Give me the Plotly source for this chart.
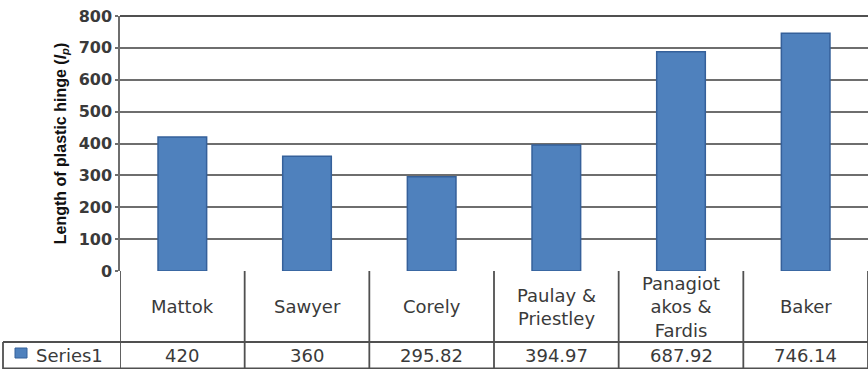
import plotly.graph_objects as go

# Plastic hinge length predicted by each model
categories = ["Mattok", "Sawyer", "Corely", "Paulay & Priestley", "Panagiotakos & Fardis", "Baker"]
table_labels = ["Mattok", "Sawyer", "Corely", "Paulay &<br>Priestley", "Panagiot<br>akos &<br>Fardis", "Baker"]
values = [420, 360, 295.82, 394.97, 687.92, 746.14]
series_name = "Series1"
y_ticks = [0, 100, 200, 300, 400, 500, 600, 700, 800]

W, H = 868, 369
M_L, M_R, M_T, M_B = 120, 0, 16, 98
plot_w = W - M_L - M_R
plot_h = H - M_T - M_B

def py(px_from_axis):
    """pixel offset below the x axis -> paper y"""
    return -px_from_axis / plot_h

def px(x_pixel):
    """absolute pixel x -> paper x"""
    return (x_pixel - M_L) / plot_w

bar_color = "#4F81BD"
edge_color = "#35609A"
line_color = "#6E6E6E"
table_line = "#505050"
text_color = "#3A3A3A"

fig = go.Figure()
fig.add_trace(go.Bar(
    x=categories, y=values, name=series_name,
    marker=dict(color=bar_color, line=dict(color=edge_color, width=1.5)),
    width=0.39, showlegend=False,
))

row1_bottom = 71   # pixels below the axis
row2_bottom = 98

shapes = []
n = len(categories)
# column separators of the data table
for i in range(n + 1):
    shapes.append(dict(type="line", xref="x", yref="paper",
                       x0=i - 0.5, x1=i - 0.5, y0=0, y1=py(row2_bottom),
                       line=dict(color=table_line, width=1.8)))
# horizontal rules of the data table
shapes.append(dict(type="line", xref="paper", yref="paper",
                   x0=px(3), x1=1, y0=py(row1_bottom), y1=py(row1_bottom),
                   line=dict(color=table_line, width=1.8)))
shapes.append(dict(type="line", xref="paper", yref="paper",
                   x0=px(3), x1=1, y0=py(row2_bottom) + 0.003, y1=py(row2_bottom) + 0.003,
                   line=dict(color=table_line, width=1.5)))
shapes.append(dict(type="line", xref="paper", yref="paper",
                   x0=px(3), x1=px(3), y0=py(row1_bottom), y1=py(row2_bottom),
                   line=dict(color=table_line, width=1.8)))
# legend key square
shapes.append(dict(type="rect", xref="paper", yref="paper",
                   x0=px(15), x1=px(27), y0=py(77), y1=py(87),
                   fillcolor=bar_color, line=dict(color=edge_color, width=1)))
# top border of the plot area
shapes.append(dict(type="line", xref="paper", yref="paper",
                   x0=0, x1=1, y0=1, y1=1, line=dict(color="#505050", width=1.8)))

table_font = dict(family="DejaVu Sans", size=18, color=text_color)
annotations = []
for cat, lab, v in zip(categories, table_labels, values):
    annotations.append(dict(x=cat, xref="x", y=py(row1_bottom / 2), yref="paper",
                            text=lab, showarrow=False, yanchor="middle", xanchor="center",
                            font=table_font))
    annotations.append(dict(x=cat, xref="x", y=py((row1_bottom + row2_bottom) / 2), yref="paper",
                            text=f"{v:g}", showarrow=False, yanchor="middle", xanchor="center",
                            font=table_font))
annotations.append(dict(x=px(34), xref="paper", y=py((row1_bottom + row2_bottom) / 2), yref="paper",
                        text=series_name, showarrow=False, xanchor="left", yanchor="middle",
                        font=table_font))

fig.update_layout(
    width=W, height=H,
    margin=dict(l=M_L, r=M_R, t=M_T, b=M_B, pad=0),
    paper_bgcolor="white", plot_bgcolor="white",
    shapes=shapes, annotations=annotations,
    xaxis=dict(showticklabels=False, ticks="", showgrid=False, zeroline=False,
               range=[-0.5, n - 0.5], showline=False),
    yaxis=dict(range=[0, 800], tickvals=y_ticks, showgrid=True, gridcolor=line_color,
               gridwidth=1.5, zeroline=False, showline=True, linecolor=line_color, linewidth=1.5,
               ticks="outside", ticklen=3, tickcolor=line_color, tickwidth=1.5,
               tickfont=dict(family="DejaVu Sans", size=16, color="#3A3A3A", weight="bold"),
               title=dict(text="<b>Length of plastic hinge (<i>l</i><sub><i>p</i></sub>)</b>",
                          font=dict(family="Liberation Sans Narrow, Liberation Sans", size=16, color="#111111"),
                          standoff=8)),
)

fig.write_html("out.html")
